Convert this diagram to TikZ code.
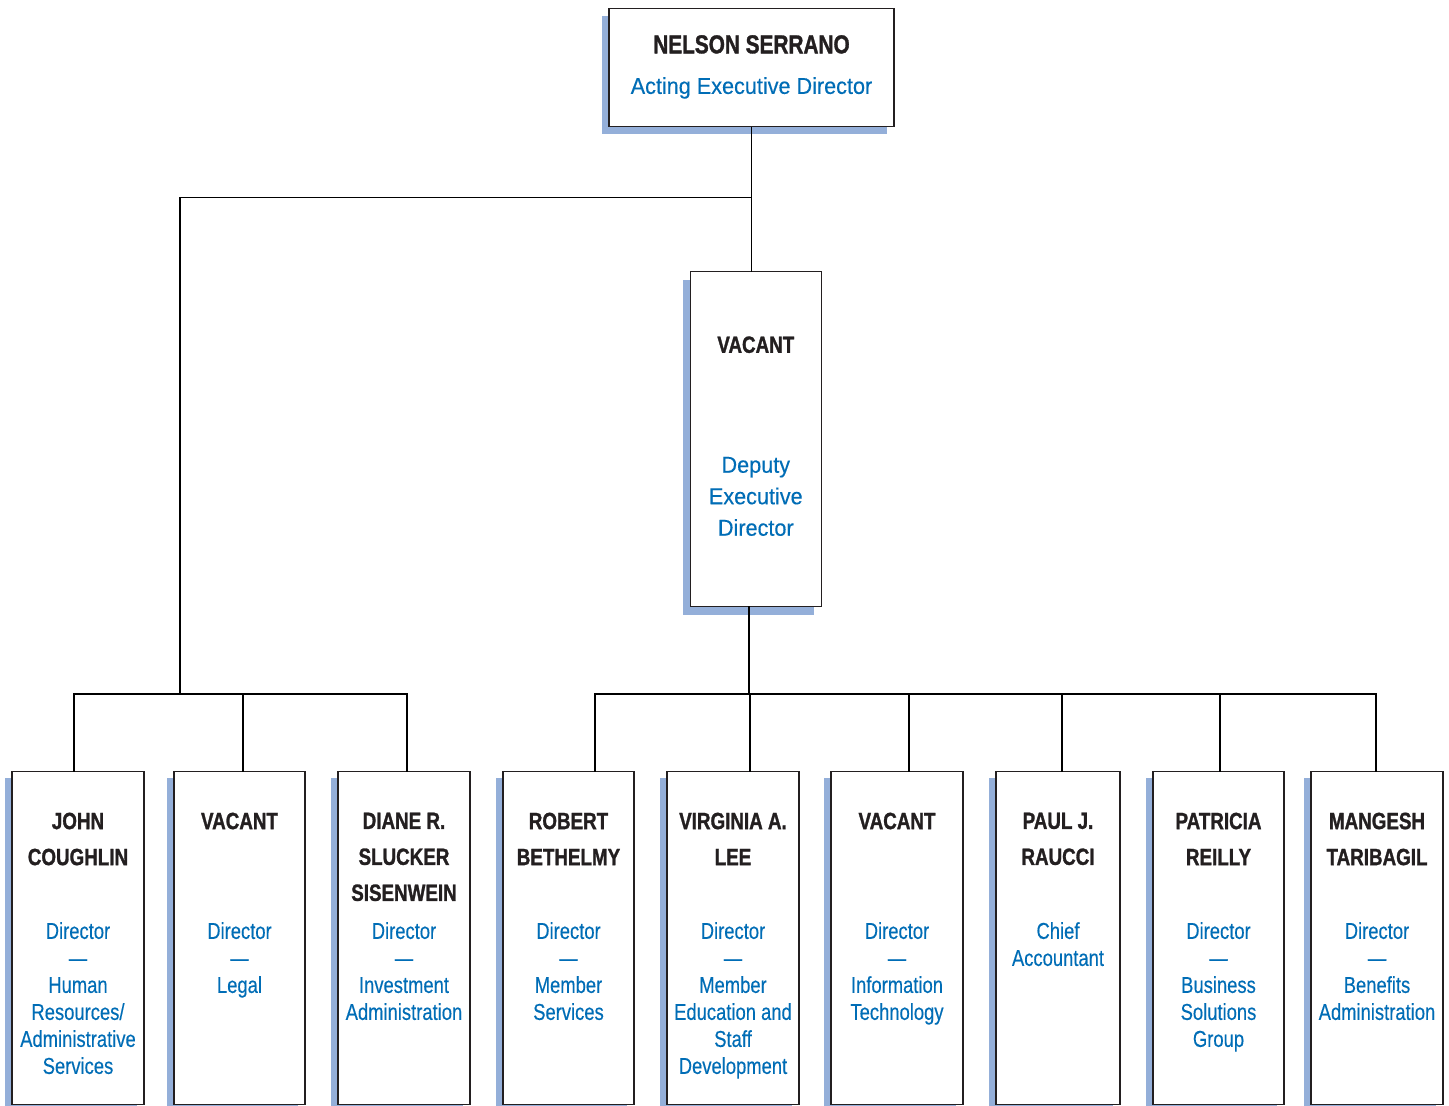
\documentclass[tikz,border=0pt]{standalone}
\usepackage{fontspec}
\setmainfont{Liberation Sans}
\newfontfamily\namefont[FakeStretch=0.8,FakeBold=1.2]{Liberation Sans}
\newfontfamily\rolefont[FakeStretch=0.8,FakeBold=0.3]{Liberation Sans}
\newfontfamily\headfont[FakeStretch=0.94,FakeBold=0.3]{Liberation Sans}
\usetikzlibrary{calc,shadows}
\definecolor{rolecol}{RGB}{0,109,182}
\definecolor{shadecol}{RGB}{148,175,217}
\definecolor{inkcol}{RGB}{35,31,32}

\begin{document}
\begin{tikzpicture}[x=1pt,y=-1pt,
		card/.style={draw=inkcol, line width=1.4pt, fill=white, anchor=north, inner sep=0pt,
			general shadow={fill=shadecol, shadow xshift=-7pt, shadow yshift=-#1}},
		card/.default=6pt,
		who/.style={anchor=north, align=center, inner sep=0pt, text=inkcol,
			font=\namefont\bfseries\fontsize{23.5}{36}\selectfont},
		role/.style={anchor=north, align=center, inner sep=0pt, text=rolecol,
			font=\rolefont\fontsize{23}{27}\selectfont},
		headrole/.style={role, font=\headfont\fontsize{23}{31.5}\selectfont},
		wire/.style={line width=1.8pt, line cap=rect}]
	\useasboundingbox (0,0) rectangle (1449,1106);

	\node[card=7pt, minimum width=285, minimum height=118] (chief) at (751.5,8) {};
	\node[who, font=\namefont\bfseries\fontsize{26}{30}\selectfont] at ($(chief.north)+(0,27)$) {NELSON SERRANO};
	\node[headrole] at ($(chief.north)+(0,69)$) {Acting Executive Director};

	\node[card=9pt, minimum width=131, minimum height=335] (deputy) at (755.8,270.7) {};
	\node[who] at ($(deputy.north)+(0,65.5)$) {VACANT};
	\node[headrole] at ($(deputy.north)+(0,186)$) {Deputy\\Executive\\Director};

	\foreach \id/\cx/\w/\dx/\staff/\duty in {
			hr/78/132/-4/{JOHN\\COUGHLIN}/{Director\\—\\Human\\Resources/\\Administrative\\Services},
			legal/239.5/131/3.5/{VACANT}/{Director\\—\\Legal},
			inv/404/132/3/{DIANE R.\\SLUCKER\\SISENWEIN}/{Director\\—\\Investment\\Administration},
			mem/568.5/131/26.5/{ROBERT\\BETHELMY}/{Director\\—\\Member\\Services},
			edu/733/132/17/{VIRGINIA A.\\LEE}/{Director\\—\\Member\\Education and\\Staff\\Development},
			it/897/132/12/{VACANT}/{Director\\—\\Information\\Technology},
			acct/1058/124/4/{PAUL J.\\RAUCCI}/{Chief\\Accountant},
			bsg/1218.5/131/1.5/{PATRICIA\\REILLY}/{Director\\—\\Business\\Solutions\\Group},
			ben/1377/132/-1/{MANGESH\\TARIBAGIL}/{Director\\—\\Benefits\\Administration}} {
		\node[card, minimum width=\w, minimum height=333] (\id) at (\cx,771) {};
		\node[who] at ($(\id.north)+(0,41.5)$) {\staff};
		\node[role] at ($(\id.north)+(0,151)$) {\duty};
		\draw[wire] ([xshift=\dx pt]\id.north) -- ++(0,-77);
	}

	\coordinate (fork) at ($(chief.south)+(0,70)$);
	\coordinate (staffbus) at (180,694);
	\coordinate (opsbus) at (749,694);

	\draw[wire] (chief.south) -- (chief.south |- deputy.north);
	\draw[wire] (fork) -| (staffbus);
	\draw[wire] ([xshift=-4pt]hr.north) ++(0,-77) -- ([xshift=3pt,yshift=77pt]inv.north);
	\draw[wire] ([xshift=-6.8pt]deputy.south) -- (opsbus);
	\draw[wire] ([xshift=26.5pt,yshift=77pt]mem.north) -- ([xshift=-1pt,yshift=77pt]ben.north);
\end{tikzpicture}
\end{document}
